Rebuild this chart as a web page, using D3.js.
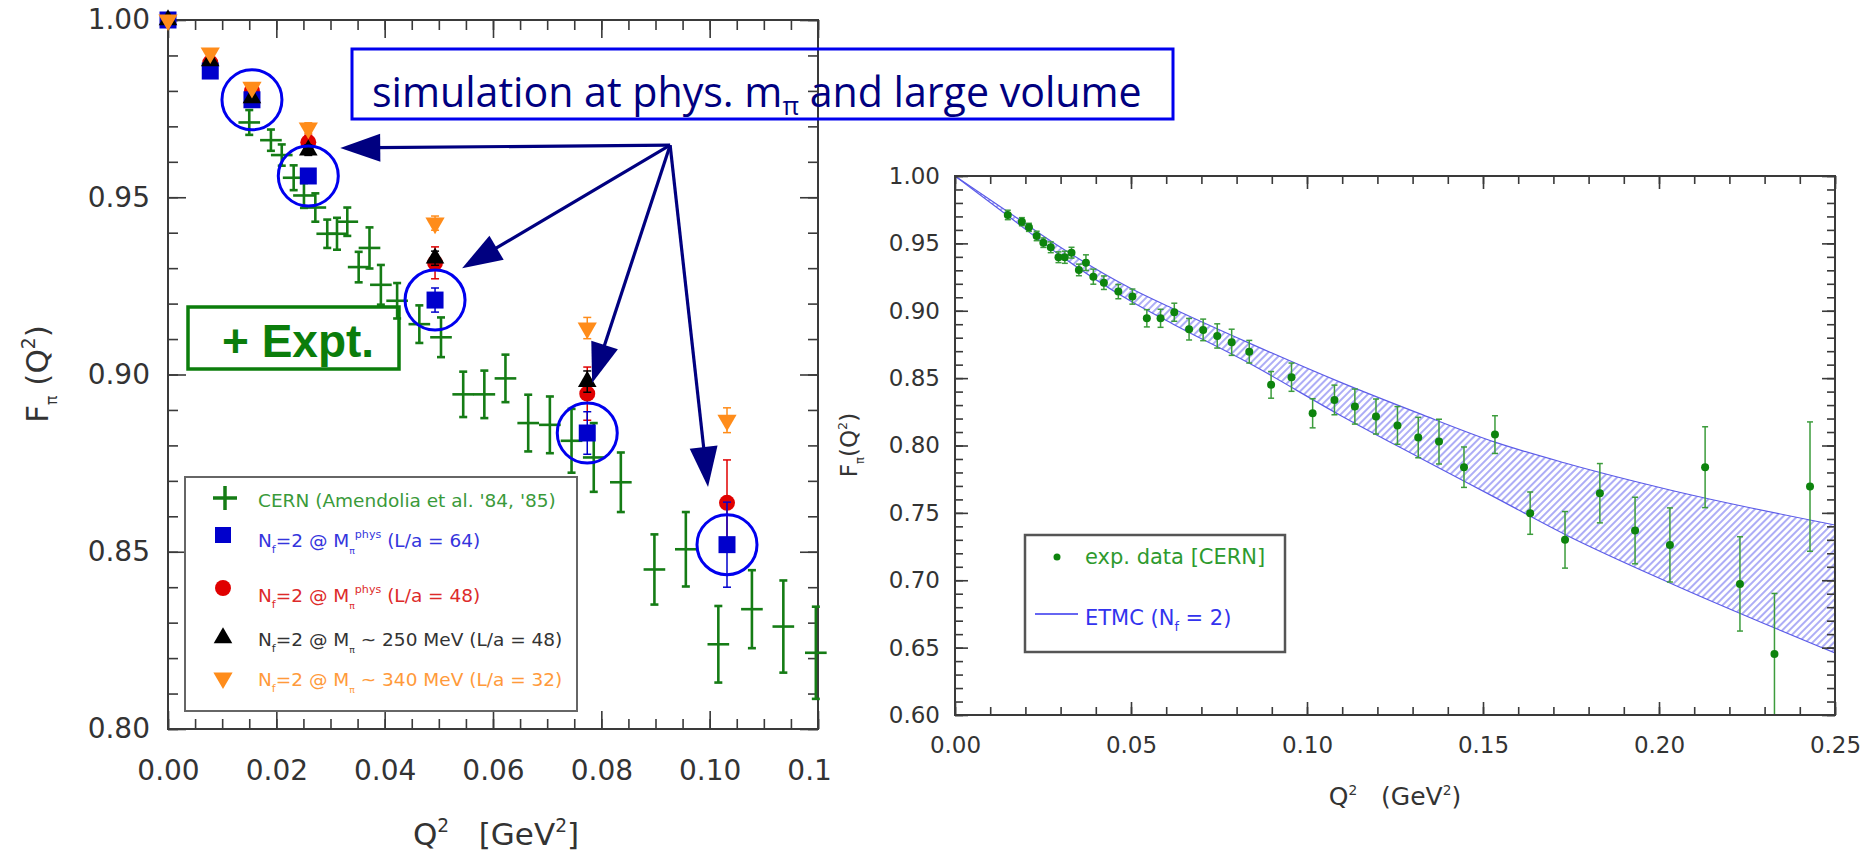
<!DOCTYPE html>
<html>
<head>
<meta charset="utf-8">
<script src="https://cdn.jsdelivr.net/npm/d3@7"></script>
<style>
  body { margin: 0; background: #fff; }
  svg { display: block; font-family: "DejaVu Sans", sans-serif; }
  svg text { white-space: pre; }
</style>
</head>
<body>
<div id="chart"></div>
<script>
// CERN pion form factor points (Amendolia et al. '84, '85)
const cernQ2 = [0.0150, 0.0190, 0.0210, 0.0232, 0.0251, 0.0272, 0.0294, 0.0312, 0.0331, 0.0352,
                0.0372, 0.0393, 0.0423, 0.0464, 0.0504, 0.0545, 0.0584, 0.0623, 0.0665, 0.0705,
                0.0745, 0.0786, 0.0836, 0.0898, 0.0956, 0.1016, 0.1078, 0.1136, 0.1196, 0.1257,
                0.1316, 0.1375, 0.1446, 0.1534, 0.1634, 0.1733, 0.1832, 0.1932, 0.2031, 0.2131,
                0.2230, 0.2328, 0.2429];
const cernF = [0.9711, 0.9661, 0.9619, 0.9555, 0.9505, 0.9471, 0.9397, 0.9397, 0.9431, 0.9303,
               0.9357, 0.9253, 0.9208, 0.9142, 0.9105, 0.8944, 0.8944, 0.8989, 0.8863, 0.8858,
               0.8813, 0.8766, 0.8696, 0.8450, 0.8507, 0.8239, 0.8338, 0.8289, 0.8215, 0.8149,
               0.8059, 0.8029, 0.7839, 0.8081, 0.7498, 0.7300, 0.7646, 0.7369, 0.7262, 0.7839,
               0.6973, 0.6452, 0.7695];
const cernErr = [0.0035, 0.003, 0.003, 0.0035, 0.0035, 0.004, 0.004, 0.0045, 0.004, 0.0043,
                 0.0058, 0.0056, 0.005, 0.0053, 0.0056, 0.0064, 0.0067, 0.0067, 0.008, 0.008,
                 0.009, 0.0097, 0.0084, 0.0099, 0.0105, 0.0108, 0.011, 0.013, 0.013, 0.014,
                 0.015, 0.0166, 0.015, 0.014, 0.0157, 0.021, 0.022, 0.0247, 0.0275, 0.030,
                 0.035, 0.045, 0.048];
const cernBinHalf = [0.002]; // half width of the Q^2 bins (horizontal bars, left panel)

// lattice points, left panel
const latQ2 = [0, 0.0078, 0.0155, 0.0259, 0.0493, 0.0774, 0.1032];
const blue64F = [1.0, 0.9856, 0.9775, 0.956, 0.921, 0.8835, 0.852];
const blue64Err = [0, 0.001, 0.001, 0.0015, 0.0034, 0.006, 0.012];
const red48F = [1.0, 0.988, 0.980, 0.9655, 0.9315, 0.8946, 0.8638];
const red48Err = [0, 0.001, 0.001, 0.002, 0.0045, 0.0075, 0.0121];
const black250F = [1.0, 0.9885, 0.978, 0.9633, 0.9328, 0.898, null];
const black250Err = [0, 0.001, 0.001, 0.0015, 0.002, 0.003, null];
const orange340F = [1.0, 0.9907, 0.981, 0.9695, 0.9427, 0.9131, 0.8871];
const orange340Err = [0, 0.001, 0.001, 0.0015, 0.002, 0.003, 0.0035];

// ETMC (Nf=2) band, right panel
const bandQ2 = [0, 0.015, 0.0294, 0.05, 0.062, 0.0836, 0.1094, 0.1316, 0.1534, 0.1733, 0.2031, 0.25];
const bandHi = [1.0, 0.9735, 0.948, 0.9165, 0.9015, 0.876, 0.847, 0.824, 0.8025, 0.787, 0.767, 0.741];
const bandLo = [1.0, 0.9705, 0.942, 0.907, 0.890, 0.861, 0.8225, 0.7915, 0.7615, 0.734, 0.698, 0.646];

const leftXTicks = [0, 0.02, 0.04, 0.06, 0.08, 0.10, 0.12];
const leftYTicks = [0.80, 0.85, 0.90, 0.95, 1.00];
const rightXTicks = [0, 0.05, 0.10, 0.15, 0.20, 0.25];
const rightYTicks = [0.60, 0.65, 0.70, 0.75, 0.80, 0.85, 0.90, 0.95, 1.00];

// annotation arrows (left panel data units) and the circled points
const arrowFrom = [0.0927, 0.9647];
const arrowTips = [[0.0318, 0.9639], [0.0543, 0.9300], [0.0783, 0.8976], [0.0997, 0.8683]];
const ringIdx = [2, 3, 4, 5, 6];

const W = 1871, H = 853;
const svg = d3.select("#chart").append("svg").attr("width", W).attr("height", H);
const defs = svg.append("defs");

const xL = d3.scaleLinear().domain([0, 0.12]).range([168, 818]);
const yL = d3.scaleLinear().domain([0.80, 1.00]).range([729, 20]);
const xR = d3.scaleLinear().domain([0, 0.25]).range([955, 1835]);
const yR = d3.scaleLinear().domain([0.60, 1.00]).range([715, 176]);
const fmt = d3.format(".2f");

// axes with inward ticks on all four sides
function frameAxes(g, x, y, o) {
    const [x0, x1] = x.range(), [y0, y1] = y.range();
    const tidy = s => {
        s.select(".domain").remove();
        s.attr("color", "#3a3a3a").attr("font-family", null).attr("font-size", o.fs);
        s.selectAll("line").attr("stroke-width", 1.6);
        s.selectAll("text").attr("fill", "#333");
    };
    const put = (axis, tr) => g.append("g").attr("transform", tr).call(axis).call(tidy);

    put(d3.axisBottom(x).tickValues(x.ticks(o.xMinor)).tickSize(-o.minor).tickFormat(""), `translate(0,${y0})`);
    put(d3.axisTop(x).tickValues(x.ticks(o.xMinor)).tickSize(-o.minor).tickFormat(""), `translate(0,${y1})`);
    put(d3.axisLeft(y).tickValues(y.ticks(o.yMinor)).tickSize(-o.minor).tickFormat(""), `translate(${x0},0)`);
    put(d3.axisRight(y).tickValues(y.ticks(o.yMinor)).tickSize(-o.minor).tickFormat(""), `translate(${x1},0)`);

    put(d3.axisBottom(x).tickValues(o.xTicks).tickSize(-o.major).tickPadding(o.xPad).tickFormat(fmt), `translate(0,${y0})`);
    put(d3.axisTop(x).tickValues(o.xTicks).tickSize(-o.major).tickFormat(""), `translate(0,${y1})`);
    put(d3.axisLeft(y).tickValues(o.yTicks).tickSize(-o.major).tickPadding(o.yPad).tickFormat(fmt), `translate(${x0},0)`);
    put(d3.axisRight(y).tickValues(o.yTicks).tickSize(-o.major).tickFormat(""), `translate(${x1},0)`);

    g.append("rect")
        .attr("x", x0).attr("y", y1).attr("width", x1 - x0).attr("height", y0 - y1)
        .attr("fill", "none").attr("stroke", "#3a3a3a").attr("stroke-width", 2);
}

// text made of pieces, some of them sub- or superscripts
function richText(g, x, y, parts, size, color, extra) {
    const t = g.append("text").attr("x", x).attr("y", y).attr("font-size", size).attr("fill", color);
    if (extra) extra(t);
    let shift = 0;
    parts.forEach(p => {
        const off = p.dy || 0;
        t.append("tspan")
            .attr("dy", off - shift)
            .attr("font-size", p.s ? size * p.s : size)
            .text(p.t);
        shift = off;
    });
    return t;
}

/* ---------------- left panel ---------------- */
defs.append("clipPath").attr("id", "leftClip")
    .append("rect").attr("x", 0).attr("y", 0).attr("width", 830).attr("height", H);
const left = svg.append("g").attr("clip-path", "url(#leftClip)");

frameAxes(left, xL, yL, {
    xTicks: leftXTicks, yTicks: leftYTicks, xMinor: 24, yMinor: 20,
    major: 18, minor: 10, fs: 28, xPad: 31, yPad: 18
});

// CERN crosses
const cern = cernQ2.map((q, i) => ({ q, f: cernF[i], e: cernErr[i] }));
const green = "#157c15";
const crosses = left.append("g").attr("stroke", green).attr("stroke-width", 2.6).attr("fill", "none");
cern.forEach(d => {
    const cx = xL(d.q), cy = yL(d.f), ya = yL(d.f + d.e), yb = yL(d.f - d.e);
    crosses.append("line").attr("x1", cx).attr("x2", cx).attr("y1", ya).attr("y2", yb);
    crosses.append("line").attr("x1", cx - 4).attr("x2", cx + 4).attr("y1", ya).attr("y2", ya);
    crosses.append("line").attr("x1", cx - 4).attr("x2", cx + 4).attr("y1", yb).attr("y2", yb);
    crosses.append("line")
        .attr("x1", xL(d.q - cernBinHalf[0])).attr("x2", xL(d.q + cernBinHalf[0]))
        .attr("y1", cy).attr("y2", cy);
});

// "+ Expt." label
left.append("rect").attr("x", 188).attr("y", 307).attr("width", 211).attr("height", 62)
    .attr("fill", "none").attr("stroke", "#0b7d0b").attr("stroke-width", 3.5);
left.append("text").attr("x", 222).attr("y", 357)
    .attr("font-family", "'Liberation Sans', Arial, sans-serif").attr("font-weight", "bold")
    .attr("font-size", 46).attr("fill", "#0b7d0b").text("+ Expt.");

// lattice series, drawn back to front
const series = [
    { f: red48F, e: red48Err, color: "#e00000", sym: d3.symbolCircle, size: 200, rot: 0 },
    { f: blue64F, e: blue64Err, color: "#0000cc", sym: d3.symbolSquare, size: 289, rot: 0 },
    { f: black250F, e: black250Err, color: "#000000", sym: d3.symbolTriangle, size: 150, rot: 0 },
    { f: orange340F, e: orange340Err, color: "#ff8c1a", sym: d3.symbolTriangle, size: 160, rot: 180 }
];
series.forEach(s => {
    const g = left.append("g");
    latQ2.forEach((q, i) => {
        if (s.f[i] == null) return;
        const cx = xL(q), ya = yL(s.f[i] + s.e[i]), yb = yL(s.f[i] - s.e[i]);
        if (s.e[i] > 0) {
            g.append("line").attr("x1", cx).attr("x2", cx).attr("y1", ya).attr("y2", yb)
                .attr("stroke", s.color).attr("stroke-width", 1.5);
            [ya, yb].forEach(yy => g.append("line").attr("x1", cx - 4).attr("x2", cx + 4)
                .attr("y1", yy).attr("y2", yy).attr("stroke", s.color).attr("stroke-width", 1.5));
        }
        g.append("path")
            .attr("d", d3.symbol().type(s.sym).size(s.size)())
            .attr("transform", `translate(${cx},${yL(s.f[i])}) rotate(${s.rot})`)
            .attr("fill", s.color);
    });
});

// blue rings around the physical-point, large-volume results
left.append("g").selectAll("circle").data(ringIdx).join("circle")
    .attr("cx", i => xL(latQ2[i])).attr("cy", i => yL(blue64F[i])).attr("r", 30)
    .attr("fill", "none").attr("stroke", "#0000ee").attr("stroke-width", 3);

// legend
const lg = left.append("g");
lg.append("rect").attr("x", 185).attr("y", 477).attr("width", 392).attr("height", 234)
    .attr("fill", "#fff").attr("stroke", "#666").attr("stroke-width", 2);
lg.append("line").attr("x1", 213).attr("x2", 237).attr("y1", 498).attr("y2", 498).attr("stroke", green).attr("stroke-width", 3.5);
lg.append("line").attr("x1", 225).attr("x2", 225).attr("y1", 486).attr("y2", 510).attr("stroke", green).attr("stroke-width", 3.5);
const legMarks = [
    { sym: d3.symbolSquare, size: 256, rot: 0, color: "#0000cc", y: 535 },
    { sym: d3.symbolCircle, size: 200, rot: 0, color: "#e00000", y: 588 },
    { sym: d3.symbolTriangle, size: 150, rot: 0, color: "#000", y: 638 },
    { sym: d3.symbolTriangle, size: 160, rot: 180, color: "#ff8c1a", y: 678 }
];
legMarks.forEach(m => lg.append("path").attr("d", d3.symbol().type(m.sym).size(m.size)())
    .attr("transform", `translate(223,${m.y}) rotate(${m.rot})`).attr("fill", m.color));

const LFS = 18.5;
richText(lg, 258, 507, [{ t: "CERN (Amendolia et al. '84, '85)" }], LFS, "#3a9a3a");
const nfParts = (tail, phys) => [
    { t: "N" }, { t: "f", dy: 6, s: 0.6 }, { t: "=2 @ M" }, { t: "π", dy: 7, s: 0.5 },
    ...(phys ? [{ t: "phys", dy: -9, s: 0.6 }] : []), { t: tail }
];
richText(lg, 258, 547, nfParts(" (L/a = 64)", true), LFS, "#3535dd");
richText(lg, 258, 602, nfParts(" (L/a = 48)", true), LFS, "#dd2a2a");
richText(lg, 258, 646, nfParts(" ~ 250 MeV (L/a = 48)", false), LFS, "#333");
richText(lg, 258, 686, nfParts(" ~ 340 MeV (L/a = 32)", false), LFS, "#ff9a3a");

// axis titles
richText(left, 496, 845, [{ t: "Q" }, { t: "2", dy: -13, s: 0.6 }, { t: "   [GeV" }, { t: "2", dy: -13, s: 0.6 }, { t: "]" }],
    31, "#333", t => t.attr("text-anchor", "middle"));
richText(left, 0, 0, [{ t: "F" }, { t: "π", dy: 9, s: 0.5 }, { t: " (Q" }, { t: "2", dy: -13, s: 0.6 }, { t: ")" }],
    31, "#333", t => t.attr("text-anchor", "middle").attr("transform", "translate(48,374) rotate(-90)"));

/* ---------------- right panel ---------------- */
const right = svg.append("g");
defs.append("clipPath").attr("id", "rightClip")
    .append("rect").attr("x", xR.range()[0]).attr("y", yR.range()[1])
    .attr("width", xR.range()[1] - xR.range()[0]).attr("height", yR.range()[0] - yR.range()[1]);

const pat = defs.append("pattern").attr("id", "hatch").attr("patternUnits", "userSpaceOnUse")
    .attr("width", 5).attr("height", 5).attr("patternTransform", "rotate(45)");
pat.append("line").attr("x1", 1).attr("x2", 1).attr("y1", 0).attr("y2", 5)
    .attr("stroke", "#6a6aee").attr("stroke-width", 1.1);

const band = bandQ2.map((q, i) => ({ q, hi: bandHi[i], lo: bandLo[i] }));
const plotR = right.append("g").attr("clip-path", "url(#rightClip)");
plotR.append("path").datum(band)
    .attr("d", d3.area().x(d => xR(d.q)).y0(d => yR(d.lo)).y1(d => yR(d.hi)).curve(d3.curveMonotoneX))
    .attr("fill", "url(#hatch)");
["hi", "lo"].forEach(k => plotR.append("path").datum(band)
    .attr("d", d3.line().x(d => xR(d.q)).y(d => yR(d[k])).curve(d3.curveMonotoneX))
    .attr("fill", "none").attr("stroke", "#5c5ce8").attr("stroke-width", 1.2));

const pts = plotR.append("g");
cern.forEach(d => {
    const cx = xR(d.q), ya = yR(d.f + d.e), yb = yR(d.f - d.e);
    pts.append("line").attr("x1", cx).attr("x2", cx).attr("y1", ya).attr("y2", yb)
        .attr("stroke", "#3c9c3c").attr("stroke-width", 1.5);
    [ya, yb].forEach(yy => pts.append("line").attr("x1", cx - 3).attr("x2", cx + 3)
        .attr("y1", yy).attr("y2", yy).attr("stroke", "#3c9c3c").attr("stroke-width", 1.5));
    pts.append("circle").attr("cx", cx).attr("cy", yR(d.f)).attr("r", 4).attr("fill", "#0d840d");
});

frameAxes(right, xR, yR, {
    xTicks: rightXTicks, yTicks: rightYTicks, xMinor: 25, yMinor: 40,
    major: 13, minor: 8, fs: 23, xPad: 22, yPad: 15
});

// right legend
const rg = right.append("g");
rg.append("rect").attr("x", 1025).attr("y", 535).attr("width", 260).attr("height", 117)
    .attr("fill", "#fff").attr("stroke", "#555").attr("stroke-width", 2.5);
rg.append("circle").attr("cx", 1057).attr("cy", 557).attr("r", 3.5).attr("fill", "#0d840d");
richText(rg, 1085, 564, [{ t: "exp. data [CERN]" }], 21, "#2e9a2e");
rg.append("line").attr("x1", 1035).attr("x2", 1078).attr("y1", 614).attr("y2", 614)
    .attr("stroke", "#3333ee").attr("stroke-width", 1.5);
richText(rg, 1085, 625, [{ t: "ETMC (N" }, { t: "f", dy: 6, s: 0.6 }, { t: " = 2)" }], 21, "#3333ee");

richText(right, 1395, 805, [{ t: "Q" }, { t: "2", dy: -10, s: 0.55 }, { t: "   (GeV" }, { t: "2", dy: -10, s: 0.55 }, { t: ")" }],
    25, "#333", t => t.attr("text-anchor", "middle"));
richText(right, 0, 0, [{ t: "F" }, { t: "π", dy: 7, s: 0.5 }, { t: "(Q" }, { t: "2", dy: -10, s: 0.55 }, { t: ")" }],
    23, "#333", t => t.attr("text-anchor", "middle").attr("transform", "translate(857,445) rotate(-90)"));

/* ---------------- annotations over both panels ---------------- */
const ann = svg.append("g");
ann.append("rect").attr("x", 352).attr("y", 49).attr("width", 821).attr("height", 70)
    .attr("fill", "none").attr("stroke", "#0000ee").attr("stroke-width", 3);
const banner = richText(ann, 372, 107,
    [{ t: "simulation at phys. m" }, { t: "π", dy: 8, s: 0.62 }, { t: " and large volume" }],
    38, "#000080", t => t.attr("font-family", "'Comic Sans MS', 'Open Sans', sans-serif"));
const bw = banner.node().getComputedTextLength();
if (bw > 0) {
    const k = 770 / bw;
    banner.attr("font-size", 38 * k);
    banner.selectAll("tspan").each(function () {
        const s = d3.select(this);
        s.attr("font-size", +s.attr("font-size") * k);
    });
}

const navy = "#000080";
const [ox, oy] = [xL(arrowFrom[0]), yL(arrowFrom[1])];
arrowTips.forEach(([q, f]) => {
    const tx = xL(q), ty = yL(f);
    const dx = tx - ox, dy = ty - oy, len = Math.hypot(dx, dy);
    const ux = dx / len, uy = dy / len, hl = 40, hw = 14;
    const bx = tx - ux * hl, by = ty - uy * hl;
    ann.append("line").attr("x1", ox).attr("y1", oy).attr("x2", bx + ux * 4).attr("y2", by + uy * 4)
        .attr("stroke", navy).attr("stroke-width", 3.2);
    ann.append("path")
        .attr("d", `M${tx},${ty}L${bx - uy * hw},${by + ux * hw}L${bx + uy * hw},${by - ux * hw}Z`)
        .attr("fill", navy);
});
</script>
</body>
</html>
